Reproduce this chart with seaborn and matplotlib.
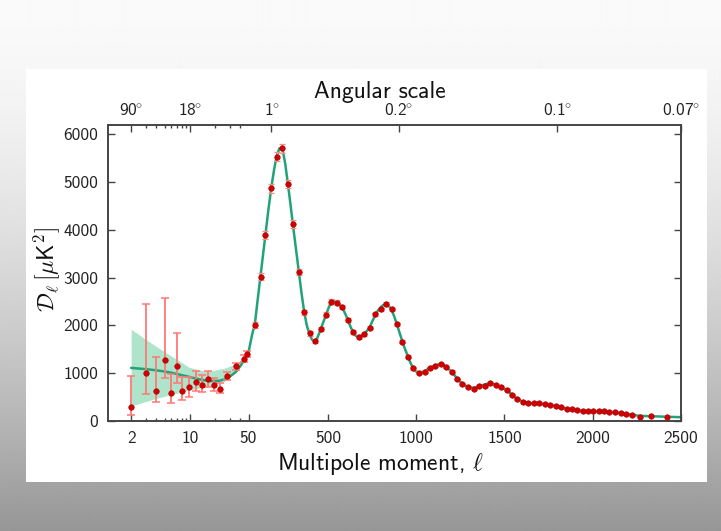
import numpy as np
import matplotlib
matplotlib.use('Agg')
import matplotlib.pyplot as plt
from matplotlib.patches import Rectangle
import seaborn as sns

# low-l points (binned), with asymmetric error bars
low_ell = [2, 3, 4, 5, 6, 7, 8, 9.8, 11.9, 14, 16.4, 19.6, 23, 27.5, 35, 44.7, 47.7]
low_D = [287, 998, 634, 1276, 593, 1151, 634, 705, 822, 747, 879, 747, 676, 935, 1144, 1297, 1402]
low_lo = [125, 558, 404, 906, 370, 788, 439, 496, 628, 613, 718, 628, 579, 850, 1070, 1230, 1340]
low_hi = [941, 2448, 1345, 2566, 983, 1848, 927, 927, 1053, 956, 1053, 893, 788, 1020, 1220, 1370, 1465]

# high-l points (bins of ~31)
high_ell = [86, 118, 146, 179, 210, 241, 273, 301, 335, 365,
            396, 425, 458, 490, 519, 551, 581, 613, 642, 674,
            702, 736, 769, 799, 831, 861, 891, 922, 954, 982,
            1014, 1047, 1077, 1109, 1141, 1171, 1201, 1232, 1262, 1294,
            1326, 1356, 1387, 1419, 1451, 1481, 1512, 1542, 1572, 1604,
            1634, 1667, 1697, 1729, 1759, 1790, 1821, 1852, 1882, 1912,
            1943, 1973, 2003, 2034, 2064, 2094, 2124, 2158, 2188, 2222,
            2268, 2329, 2423]
high_D = [2008, 3019, 3891, 4868, 5530, 5704, 4951, 4121, 3124, 2274,
          1834, 1674, 1918, 2224, 2496, 2475, 2391, 2113, 1856, 1764,
          1813, 1952, 2232, 2337, 2448, 2337, 2023, 1660, 1346, 1102,
          1011, 1032, 1102, 1151, 1193, 1123, 1032, 885, 781, 718,
          676, 732, 732, 801, 747, 705, 649, 550, 467, 404,
          370, 370, 370, 356, 341, 314, 286, 251, 244, 223,
          202, 216, 216, 209, 202, 195, 188, 167, 139, 118,
          90, 111, 90]
high_err = [60, 70, 80, 90, 95, 95, 85, 75, 65, 55,
            50, 45, 45, 45, 45, 45, 40, 40, 40, 40,
            35, 35, 35, 35, 35, 35, 30, 30, 30, 30,
            25, 25, 25, 25, 25, 25, 25, 20, 20, 20,
            20, 20, 20, 20, 20, 20, 20, 20, 20, 20,
            15, 15, 15, 15, 15, 15, 15, 15, 15, 15,
            15, 15, 15, 15, 15, 15, 15, 15, 15, 15,
            15, 15, 15]

# best-fit model curve
model_ell = [2, 3, 4, 5, 6, 8, 10, 12, 15, 18, 22, 26, 30, 35, 40, 45, 50, 60, 70, 86,
             100, 118, 132, 146, 162, 179, 195, 210, 225, 235, 245, 258, 273, 287, 301,
             318, 335, 350, 365, 380, 396, 410, 425, 440, 458, 474, 490, 505, 519, 535,
             551, 566, 581, 597, 613, 628, 642, 658, 674, 690, 702, 720, 736, 752, 769,
             785, 799, 815, 831, 846, 861, 876, 891, 906, 922, 938, 954, 968, 982, 998,
             1014, 1030, 1047, 1062, 1077, 1093, 1109, 1125, 1141, 1156, 1171, 1186, 1201,
             1216, 1232, 1247, 1262, 1278, 1294, 1310, 1326, 1341, 1356, 1372, 1387, 1403,
             1419, 1435, 1451, 1466, 1481, 1497, 1512, 1527, 1542, 1557, 1572, 1588, 1604,
             1619, 1634, 1650, 1667, 1697, 1729, 1759, 1790, 1821, 1852, 1882, 1912, 1943,
             1973, 2003, 2034, 2064, 2094, 2124, 2158, 2188, 2222, 2268, 2329, 2423, 2500]
model_D = [1110, 1085, 1060, 1035, 1010, 960, 920, 885, 850, 835, 840, 870, 930, 1020, 1150,
           1290, 1440, 1620, 1800, 2030, 2480, 3030, 3460, 3900, 4400, 4880, 5260, 5550, 5700,
           5710, 5640, 5380, 4960, 4550, 4120, 3620, 3130, 2680, 2290, 2000, 1810, 1700, 1675,
           1740, 1910, 2070, 2230, 2380, 2480, 2515, 2480, 2430, 2370, 2250, 2110, 1970, 1860,
           1780, 1760, 1780, 1820, 1880, 1960, 2090, 2220, 2320, 2380, 2430, 2440, 2400, 2320,
           2180, 2020, 1840, 1660, 1490, 1340, 1210, 1110, 1040, 1015, 1020, 1045, 1075, 1105,
           1140, 1165, 1185, 1190, 1170, 1130, 1080, 1030, 960, 890, 830, 780, 740, 715, 700,
           695, 705, 725, 745, 765, 780, 785, 775, 755, 730, 700, 675, 645, 600, 555, 505, 465,
           430, 405, 385, 372, 368, 366, 362, 352, 338, 315, 288, 258, 240, 225, 212, 208, 205,
           200, 195, 190, 182, 168, 148, 128, 108, 100, 88, 80]

# cosmic variance band at low l
band_ell = [2, 4, 8.3, 9.8, 16, 25.5, 37, 50]
band_lo = [314, 474, 614, 649, 718, 823, 1053, 1402]
band_hi = [1918, 1555, 1206, 1123, 1032, 1102, 1206, 1485]

xticks = [2, 10, 50, 500, 1000, 1500, 2000, 2500]
xtick_labels = ['2', '10', '50', '500', '1000', '1500', '2000', '2500']
xminor = [3, 4, 5, 6, 7, 8, 9, 20, 30, 40]
yticks = [0, 1000, 2000, 3000, 4000, 5000, 6000]
angle_ell = [2, 10, 180, 900, 1800, 2500]
angle_labels = [r'$90^{\!\!\circ}$', r'$18^{\!\!\circ}$', r'$1^{\!\!\circ}$',
                r'$0.2^{\!\!\circ}$', r'$0.1^{\!\!\circ}$', r'$0.07^{\!\!\circ}$']

sns.set_style('ticks')
plt.rcParams['font.family'] = ['cmss10', 'DejaVu Sans']
plt.rcParams['mathtext.fontset'] = 'custom'
plt.rcParams['mathtext.rm'] = 'cmss10'
plt.rcParams['mathtext.sf'] = 'cmss10'
plt.rcParams['mathtext.it'] = 'cmss10'
plt.rcParams['mathtext.fallback'] = 'cm'
plt.rcParams['axes.unicode_minus'] = False

# log below l=50, linear above
LOG_PX = 84.0
LIN_PX = 0.1766
JOIN = np.log10(50) * LOG_PX


def fwd(x):
    x = np.asarray(x, dtype=float)
    xc = np.clip(x, 1e-3, None)
    return np.where(x <= 50, np.log10(xc) * LOG_PX, JOIN + (x - 50) * LIN_PX)


def inv(y):
    y = np.asarray(y, dtype=float)
    yc = np.clip(y, None, JOIN)
    return np.where(y <= JOIN, 10 ** (yc / LOG_PX), 50 + (y - JOIN) / LIN_PX)


fig = plt.figure(figsize=(7.21, 5.31), dpi=100)

# slide background
bg = fig.add_axes([0, 0, 1, 1], zorder=-10)
rows = np.linspace(0, 1, 531)
shade = 0.98 - 0.39 * rows ** 1.6
bg.imshow(np.repeat(shade[:, None], 4, axis=1), cmap='gray', vmin=0, vmax=1,
          aspect='auto', extent=(0, 1, 0, 1), origin='upper', interpolation='bilinear')
bg.add_patch(Rectangle((26 / 721, 1 - 482 / 531), 681 / 721, 413 / 531,
                       facecolor='white', edgecolor='none', transform=bg.transAxes))
bg.set_xlim(0, 1)
bg.set_ylim(0, 1)
bg.axis('off')

ax = fig.add_axes([108 / 721, 1 - 421 / 531, 573 / 721, 296 / 531])
ax.set_xscale('function', functions=(fwd, inv))
ax.set_facecolor('white')

ax.fill_between(band_ell, band_lo, band_hi, color='#aee4c9', lw=0, zorder=1)
sns.lineplot(x=model_ell, y=model_D, ax=ax, color='#22a377', lw=1.8, zorder=2)

low_err = [np.subtract(low_D, low_lo), np.subtract(low_hi, low_D)]
ax.errorbar(low_ell, low_D, yerr=low_err, fmt='none', ecolor='#ff7878',
            elinewidth=1.3, capsize=3, capthick=1.1, zorder=3)
ax.errorbar(high_ell, high_D, yerr=high_err, fmt='none', ecolor='#ff8a8a',
            elinewidth=1.0, capsize=2.5, capthick=0.9, zorder=3)
sns.scatterplot(x=low_ell + high_ell, y=low_D + high_D, ax=ax, s=16,
                color='#d00000', edgecolor='#a80000', linewidth=0.4, zorder=5)

ax.set_xlim(1.06, 2500)
ax.set_ylim(0, 6190)
ax.set_xticks(xticks)
ax.set_xticklabels(xtick_labels)
ax.set_xticks(xminor, minor=True)
ax.set_yticks(yticks)
ax.set_yticklabels([str(v) for v in yticks])
ax.tick_params(which='both', direction='in', right=True, top=False,
               labelsize=12.5, color='#444444', labelcolor='#222222', width=1)
ax.tick_params(which='major', length=5, pad=7)
ax.tick_params(which='minor', length=2.5)
for sp in ax.spines.values():
    sp.set_color('#444444')
    sp.set_linewidth(1.2)

ax.set_xlabel(r'Multipole moment, $\ell$', fontsize=17, color='#111111',
              math_fontfamily='cm')
ax.xaxis.set_label_coords(0.475, -0.1)
ax.set_ylabel(r'$\mathcal{D}_\ell\,[\mu\mathsf{K}^2]$', fontsize=17, color='#111111',
              math_fontfamily='cm')
ax.yaxis.set_label_coords(-0.08, 0.51)

ax2 = ax.twiny()
ax2.set_xscale('function', functions=(fwd, inv))
ax2.set_xlim(ax.get_xlim())
ax2.set_xticks(angle_ell)
ax2.set_xticklabels(angle_labels)
ax2.set_xticks(xminor, minor=True)
ax2.tick_params(which='both', direction='in', labelsize=12.5, color='#444444',
                labelcolor='#222222', width=1)
ax2.tick_params(which='major', length=5, pad=4)
ax2.tick_params(which='minor', length=2.5)
for sp in ax2.spines.values():
    sp.set_color('#444444')
    sp.set_linewidth(1.2)
ax2.set_xlabel('Angular scale', fontsize=17, color='#111111')
ax2.xaxis.set_label_coords(0.475, 1.09)

fig.savefig('out.png', dpi=100)
